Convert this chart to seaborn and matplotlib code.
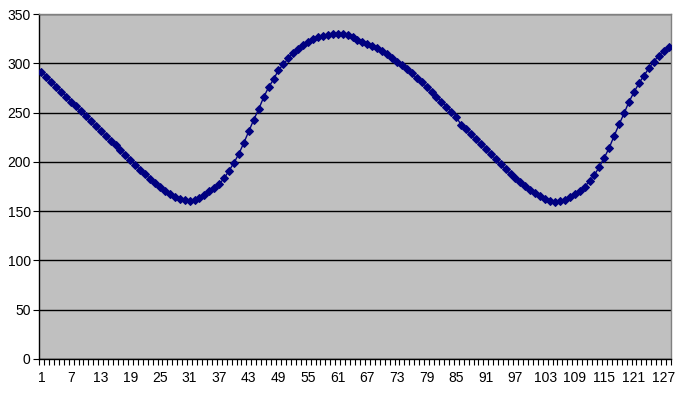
import numpy as np
import pandas as pd
import matplotlib
matplotlib.use("Agg")
import matplotlib.pyplot as plt
import seaborn as sns

values = [
    291.0, 286.0, 281.0, 276.0, 271.2, 266.2, 261.2, 256.2, 251.3, 246.3,
    241.4, 236.4, 231.5, 226.5, 221.6, 216.6, 211.7, 206.7, 201.8, 196.8,
    191.8, 187.7, 182.7, 178.3, 174.2, 170.5, 167.4, 164.7, 162.4, 161.0,
    160.7, 161.7, 163.7, 166.7, 170.0, 173.5, 177.6, 183.4, 191.1, 199.2,
    208.3, 219.5, 231.2, 242.8, 253.6, 265.5, 275.7, 283.6, 293.2, 299.0,
    305.1, 310.8, 314.8, 318.6, 321.9, 324.3, 326.4, 328.0, 329.0, 329.7,
    330.0, 329.7, 328.7, 326.6, 323.6, 321.3, 319.3, 317.5, 315.2, 312.8,
    309.1, 305.7, 301.6, 298.3, 294.2, 289.9, 284.8, 280.7, 276.3, 271.2,
    266.1, 261.1, 256.0, 250.9, 245.5, 237.5, 233.1, 228.0, 222.9, 218.2,
    213.4, 208.0, 202.9, 197.6, 192.8, 188.0, 184.0, 179.9, 175.6, 171.5,
    168.2, 165.1, 162.7, 160.7, 159.6, 160.0, 161.8, 164.1, 167.1, 170.5,
    174.5, 180.6, 186.7, 195.2, 204.3, 214.4, 226.6, 238.1, 249.3, 261.1,
    270.6, 279.7, 287.4, 294.9, 301.6, 307.7, 312.8, 316.2,
]
categories = list(range(1, len(values) + 1))
x_tick_labels = [str(c) for c in categories if (c - 1) % 6 == 0]
y_ticks = [0, 50, 100, 150, 200, 250, 300, 350]

df = pd.DataFrame({"cat": categories, "val": values})

sns.set_theme(style="white")
plt.rcParams['font.family'] = ['Liberation Sans', 'DejaVu Sans']

fig = plt.figure(figsize=(6.8, 3.94), dpi=100)
ax = fig.add_axes([39/680, 1 - 359/394, (671 - 39)/680, 345/394])
ax.set_facecolor('#C0C0C0')

sns.lineplot(data=df, x="cat", y="val", ax=ax, color='#000080', linewidth=1.0,
             marker='D', markersize=4.2, markeredgecolor='#000080',
             markerfacecolor='#000080', zorder=3)

ax.set_xlim(0.5, len(values) + 0.5)
ax.set_ylim(0, 350)
ax.set_yticks(y_ticks)
ax.set_yticklabels([str(t) for t in y_ticks], fontsize=10, color='black')
ax.yaxis.grid(True, color='black', linewidth=1.0)
ax.xaxis.grid(False)
ax.set_axisbelow(True)

label_pos = [c for c in categories if (c - 1) % 6 == 0]
ax.set_xticks(label_pos)
ax.set_xticklabels(x_tick_labels, fontsize=10, color='black')
ax.set_xticks(np.arange(0.5, len(values) + 1.0, 1.0), minor=True)
ax.tick_params(axis='x', which='both', bottom=True)
ax.tick_params(axis='y', which='major', left=True)
ax.tick_params(axis='x', which='major', length=0, pad=9)
ax.tick_params(axis='x', which='minor', length=4, width=0.8, color='black', direction='out')
ax.tick_params(axis='y', which='major', length=4, width=0.8, color='black', direction='out', pad=2)
ax.set_xlabel("")
ax.set_ylabel("")

for side in ['top', 'right']:
    ax.spines[side].set_color('#808080')
    ax.spines[side].set_linewidth(1.0)
for side in ['left', 'bottom']:
    ax.spines[side].set_color('black')
    ax.spines[side].set_linewidth(1.0)

fig.savefig("out.png", dpi=100)
